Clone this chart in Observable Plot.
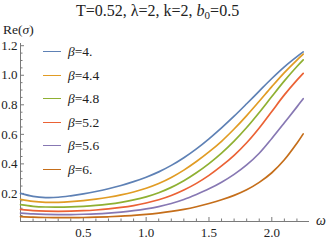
<!DOCTYPE html>
<html>
<head>
<meta charset="utf-8">
<script src="https://cdn.jsdelivr.net/npm/d3@7"></script>
<script src="https://cdn.jsdelivr.net/npm/@observablehq/plot@0.6"></script>
<style>
  html, body { margin: 0; padding: 0; background: #fff; }
  #wrap { position: relative; width: 327px; height: 242px; font-family: "Liberation Serif", "Times New Roman", "DejaVu Serif", serif; }
  .lbl { position: absolute; white-space: nowrap; color: #222; line-height: 1; }
  .leg { position: absolute; left: 43px; height: 14px; font-size: 13.5px; color: #222; white-space: nowrap; }
  .leg .sw { position: absolute; left: 0; top: 6px; width: 18px; height: 0; border-top: 1.7px solid; }
  .leg .tx { position: absolute; left: 25px; top: 0; line-height: 14px; }
</style>
</head>
<body>
<div id="wrap"></div>
<script>
// ---- data ----
const omega = [0,0.1,0.2,0.3,0.4,0.5,0.6,0.7,0.8,0.9,1.0,1.1,1.2,1.3,1.4,1.5,1.6,1.7,1.8,1.9,2.0,2.1,2.2,2.25];
const beta40 = [0.200,0.180,0.172,0.174,0.184,0.197,0.213,0.232,0.254,0.280,0.310,0.346,0.390,0.442,0.502,0.570,0.644,0.723,0.807,0.893,0.978,1.057,1.126,1.158];
const beta44 = [0.160,0.146,0.140,0.140,0.144,0.151,0.161,0.174,0.190,0.210,0.235,0.267,0.308,0.358,0.416,0.481,0.553,0.636,0.727,0.824,0.923,1.018,1.103,1.143];
const beta48 = [0.124,0.113,0.108,0.107,0.109,0.113,0.119,0.128,0.140,0.156,0.177,0.205,0.241,0.286,0.340,0.402,0.473,0.554,0.646,0.748,0.856,0.962,1.059,1.104];
const beta52 = [0.092,0.084,0.080,0.079,0.080,0.083,0.088,0.095,0.105,0.118,0.135,0.157,0.186,0.223,0.268,0.322,0.386,0.458,0.543,0.643,0.755,0.867,0.967,1.013];
const beta56 = [0.067,0.061,0.058,0.057,0.057,0.059,0.062,0.067,0.074,0.083,0.095,0.111,0.132,0.159,0.193,0.231,0.276,0.329,0.393,0.472,0.572,0.678,0.786,0.841];
const beta60 = [0.043,0.039,0.037,0.036,0.036,0.037,0.039,0.042,0.046,0.051,0.058,0.067,0.078,0.092,0.110,0.132,0.157,0.187,0.225,0.275,0.340,0.428,0.540,0.603];
const seriesValues = [beta40, beta44, beta48, beta52, beta56, beta60];
const seriesNames = ["4.", "4.4", "4.8", "5.2", "5.6", "6."];
const colors = ["#5E81B5", "#E19C24", "#8FB032", "#EB6235", "#8778B3", "#C56E1A"];
const xTickLabels = [0.5, 1.0, 1.5, 2.0];
const yTickLabels = [0.2, 0.4, 0.6, 0.8, 1.0, 1.2];
const xMinor = d3.range(1, 23).map(i => i / 10).filter(v => !xTickLabels.some(t => Math.abs(t - v) < 1e-9));
const yMinor = d3.range(1, 25).map(i => i / 20).filter(v => !yTickLabels.some(t => Math.abs(t - v) < 1e-9));

const rows = [];
seriesValues.forEach((vals, s) => {
  vals.forEach((v, i) => rows.push({omega: omega[i], value: v, series: seriesNames[s]}));
});

const W = 327, H = 242;
const mTop = 43, mBottom = 21, mLeft = 20, mRight = 18;
const plotW = W - mLeft - mRight, plotH = H - mTop - mBottom;
const axisColor = "#7a7a7a";
const xDomain = [0, 2.30], yDomain = [0.01, 1.215];
const serif = "'Liberation Serif', 'Times New Roman', 'DejaVu Serif', serif";

const chart = Plot.plot({
  width: W, height: H,
  marginTop: mTop, marginBottom: mBottom, marginLeft: mLeft, marginRight: mRight,
  x: {domain: xDomain},
  y: {domain: yDomain},
  color: {domain: seriesNames, range: colors},
  style: {fontFamily: serif, fontSize: "13px", color: "#333", background: "white"},
  marks: [
    Plot.ruleY([yDomain[0]], {stroke: axisColor, strokeWidth: 1}),
    Plot.ruleX([xDomain[0]], {stroke: axisColor, strokeWidth: 1}),
    Plot.tickX(xTickLabels, {x: d => d, stroke: axisColor, insetTop: plotH - 4}),
    Plot.tickX(xMinor, {x: d => d, stroke: axisColor, insetTop: plotH - 2.5}),
    Plot.tickY(yTickLabels, {y: d => d, stroke: axisColor, insetRight: plotW - 4}),
    Plot.tickY(yMinor, {y: d => d, stroke: axisColor, insetRight: plotW - 2.5}),
    Plot.axisX(xTickLabels, {tickSize: 0, tickPadding: 6, tickFormat: d3.format(".1f"), label: null, fill: "#222", fontSize: 13, fontFamily: serif}),
    Plot.axisY(yTickLabels, {tickSize: 0, tickPadding: 3, tickFormat: d3.format(".1f"), label: null, fill: "#222", fontSize: 13, fontFamily: serif}),
    Plot.line(rows, {x: "omega", y: "value", z: "series", stroke: "series", strokeWidth: 1.7, curve: "catmull-rom"})
  ]
});

const wrap = document.getElementById("wrap");
chart.style.position = "absolute";
chart.style.left = "0px";
chart.style.top = "0px";
wrap.appendChild(chart);

function addLabel(html, css) {
  const d = document.createElement("div");
  d.className = "lbl";
  d.innerHTML = html;
  Object.assign(d.style, css);
  wrap.appendChild(d);
}
addLabel('T=0.52, λ=2, k=2, <i>b</i><sub style="font-size:11px;vertical-align:-3px;line-height:0">0</sub>=0.5',
  {left: "76px", top: "3px", fontSize: "16px"});
addLabel('Re(<i>σ</i>)', {left: "3px", top: "23px", fontSize: "13.5px"});
addLabel('<i>ω</i>', {left: "316px", top: "214px", fontSize: "14px"});

seriesNames.forEach((name, i) => {
  const d = document.createElement("div");
  d.className = "leg";
  d.style.top = (45 + i * 23.5) + "px";
  d.innerHTML = `<span class="sw" style="border-top-color:${colors[i]}"></span><span class="tx"><i>β</i>=${name}</span>`;
  wrap.appendChild(d);
});
</script>
</body>
</html>
